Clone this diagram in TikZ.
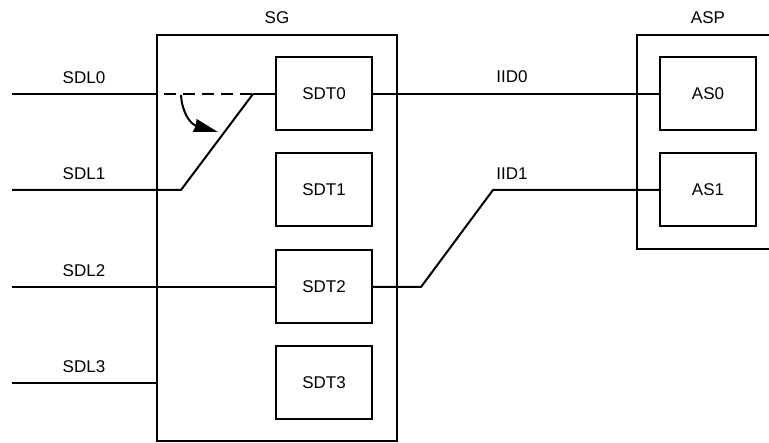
\documentclass[tikz,border=0pt]{standalone}
\usepackage{fontspec}
\setmainfont{Liberation Sans}
\usetikzlibrary{arrows.meta}
\begin{document}
\begin{tikzpicture}[x=1pt,y=-1pt,line width=2pt,
  box/.style={draw,line width=2pt,minimum width=96pt,minimum height=73pt,inner sep=0pt,outer sep=0pt,font=\fontsize{17}{20}\selectfont},
  frame/.style={draw,line width=2pt,inner sep=0pt,outer sep=0pt},
  lbl/.style={inner sep=0pt,outer sep=0pt,font=\fontsize{17}{20}\selectfont},
  wire/.style={line width=2pt}]
\useasboundingbox (0,0) rectangle (769,443);
% containers
\node[frame,minimum width=240pt,minimum height=406pt] (SG) at (277,238) {};
\node[lbl] (SGl) at (277,18) {SG};
\coordinate (aspTR) at (770,35);
\coordinate (aspTL) at (637,35);
\coordinate (aspBL) at (637,249);
\coordinate (aspBR) at (770,249);
\draw[wire] (aspTR) -- (aspTL) -- (aspBL) -- (aspBR);
\node[lbl] (ASPl) at (708,18) {ASP};
% inner boxes
\node[box] (SDT0) at (324,94) {SDT0};
\node[box] (SDT1) at (324,190) {SDT1};
\node[box] (SDT2) at (324,287) {SDT2};
\node[box] (SDT3) at (324,383) {SDT3};
\node[box] (AS0) at (708,94) {AS0};
\node[box] (AS1) at (708,190) {AS1};
% labels
\node[lbl] (L0) at (84,78) {SDL0};
\node[lbl] (L1) at (84,174) {SDL1};
\node[lbl] (L2) at (84,271) {SDL2};
\node[lbl] (L3) at (84,367) {SDL3};
\node[lbl] (I0) at (512,77) {IID0};
\node[lbl] (I1) at (512,174) {IID1};
% wires
\coordinate (s0) at (12,94);
\coordinate (s1) at (12,190);
\coordinate (s2) at (12,287);
\coordinate (s3) at (12,383);
\coordinate (sw) at (253,94);
\coordinate (k1) at (181,190);
\coordinate (j1) at (421,287);
\coordinate (j2) at (493,190);
\draw[wire] (s0) -- (SG.west |- s0);
\draw[wire,dash pattern=on 12pt off 7pt,dash phase=12pt] (SG.west |- s0) -- (sw);
\draw[wire] (sw) -- (SDT0.west);
\draw[wire] (s1) -- (k1) -- (sw);
\draw[wire] (s2) -- (SDT2.west);
\draw[wire] (s3) -- (SG.west |- s3);
\draw[wire] (SDT0.east) -- (AS0.west);
\draw[wire] (SDT2.east) -- (j1) -- (j2) -- (AS1.west);
% switch arrow
\coordinate (a0) at (181,95);
\coordinate (a1) at (218,132);
\draw[wire,-{Stealth[length=24pt,width=13pt,inset=1pt]}] (a0) .. controls (182,112) and (190,124) .. (a1);
\end{tikzpicture}
\end{document}
